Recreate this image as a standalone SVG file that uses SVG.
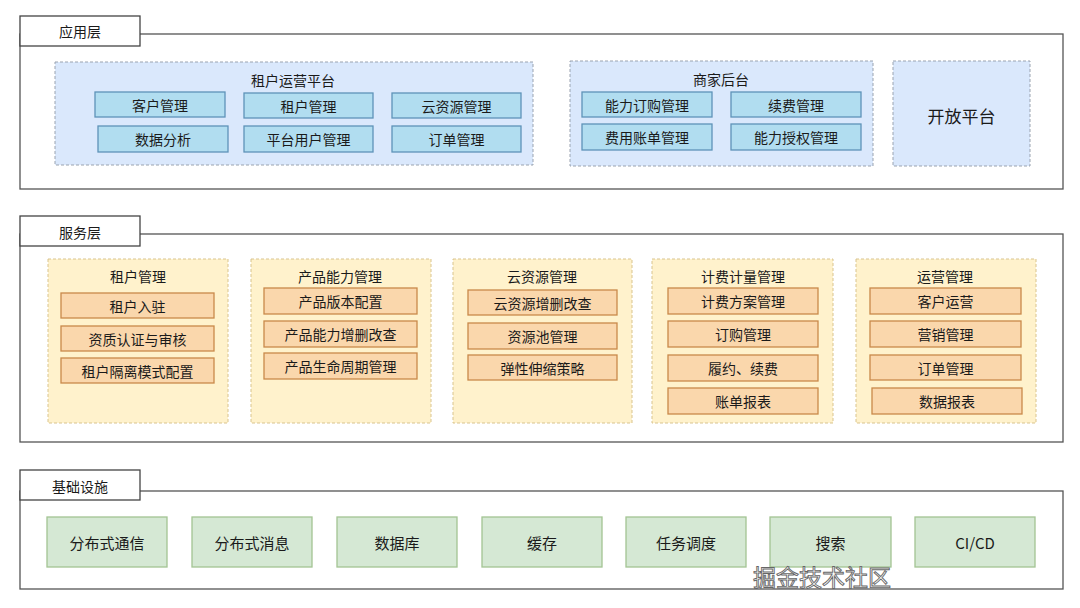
<svg xmlns="http://www.w3.org/2000/svg" width="1080" height="608" viewBox="0 0 1080 608">
<style>
text{font-family:"Noto Sans CJK SC","Liberation Sans",sans-serif;font-size:14px;fill:#1a1a1a;text-anchor:middle;dominant-baseline:central}
.layer{fill:#ffffff;stroke:#555;stroke-width:1.3}
.tab{fill:#ffffff;stroke:#444;stroke-width:1.3}
.bg{fill:#dae8fc;stroke:#9aa3b0;stroke-width:1;stroke-dasharray:3 2}
.bi{fill:#b1ddf0;stroke:#5e93b8;stroke-width:1.3}
.yg{fill:#fff2cc;stroke:#d9c48e;stroke-width:1;stroke-dasharray:3 2}
.oi{fill:#fad7ac;stroke:#c9894a;stroke-width:1.3}
.gi{fill:#d5e8d4;stroke:#a3c493;stroke-width:1.3}
.big{font-size:17px}
.inf{font-size:15px}
.wm{font-size:23px;fill:#ffffff;stroke:#666;stroke-width:0.9;text-anchor:start}
</style>
<rect width="1080" height="608" fill="#ffffff"/>

<!-- Application layer -->
<g id="app-layer">
<rect class="layer" x="20" y="34" width="1043" height="155"/>
<rect class="tab" x="20" y="16" width="120" height="30"/>
<text x="80" y="31">应用层</text>
</g>
<g id="tenant-ops-platform">
<rect class="bg" x="55" y="62" width="478" height="103"/>
<text x="293" y="80">租户运营平台</text>
</g>
<g id="app-customer"><rect class="bi" x="95" y="92" width="130" height="25"/><text x="160" y="104.5">客户管理</text></g>
<g id="app-tenant"><rect class="bi" x="244" y="93" width="129" height="25"/><text x="308.5" y="105.5">租户管理</text></g>
<g id="app-cloud"><rect class="bi" x="392" y="93" width="129" height="25"/><text x="456.5" y="105.5">云资源管理</text></g>
<g id="app-data"><rect class="bi" x="98" y="126" width="130" height="26"/><text x="163" y="139">数据分析</text></g>
<g id="app-platuser"><rect class="bi" x="244" y="126" width="129" height="26"/><text x="308.5" y="139">平台用户管理</text></g>
<g id="app-order"><rect class="bi" x="392" y="126" width="129" height="26"/><text x="456.5" y="139">订单管理</text></g>

<g id="merchant-backend">
<rect class="bg" x="570" y="61" width="303" height="105"/>
<text x="721" y="79">商家后台</text>
</g>
<g id="m-subscribe"><rect class="bi" x="582" y="92" width="130" height="25"/><text x="647" y="104.5">能力订购管理</text></g>
<g id="m-renew"><rect class="bi" x="731" y="92" width="130" height="25"/><text x="796" y="104.5">续费管理</text></g>
<g id="m-bill"><rect class="bi" x="582" y="124" width="130" height="26"/><text x="647" y="137">费用账单管理</text></g>
<g id="m-auth"><rect class="bi" x="731" y="124" width="130" height="26"/><text x="796" y="137">能力授权管理</text></g>

<g id="open-platform">
<rect class="bg" x="893" y="61" width="137" height="105"/>
<text class="big" x="961.5" y="115">开放平台</text>
</g>

<!-- Service layer -->
<g id="service-layer">
<rect class="layer" x="20" y="234" width="1043" height="208"/>
<rect class="tab" x="20" y="216" width="120" height="30"/>
<text x="80" y="232">服务层</text>
</g>
<g id="svc-tenant">
<rect class="yg" x="48" y="259" width="180" height="164"/>
<text x="138" y="276">租户管理</text>
<rect class="oi" x="61" y="293" width="153" height="25"/><text x="137.5" y="305.5">租户入驻</text>
<rect class="oi" x="61" y="326" width="153" height="25"/><text x="137.5" y="338.5">资质认证与审核</text>
<rect class="oi" x="61" y="358" width="153" height="25"/><text x="137.5" y="370.5">租户隔离模式配置</text>
</g>
<g id="svc-product">
<rect class="yg" x="251" y="259" width="180" height="164"/>
<text x="340" y="276">产品能力管理</text>
<rect class="oi" x="264" y="288" width="153" height="26"/><text x="340.5" y="301">产品版本配置</text>
<rect class="oi" x="264" y="321" width="153" height="26"/><text x="340.5" y="334">产品能力增删改查</text>
<rect class="oi" x="264" y="353" width="153" height="26"/><text x="340.5" y="366">产品生命周期管理</text>
</g>
<g id="svc-cloud">
<rect class="yg" x="453" y="259" width="179" height="164"/>
<text x="542" y="276">云资源管理</text>
<rect class="oi" x="468" y="290" width="149" height="25"/><text x="542.5" y="302.5">云资源增删改查</text>
<rect class="oi" x="468" y="323" width="149" height="26"/><text x="542.5" y="336">资源池管理</text>
<rect class="oi" x="468" y="355" width="149" height="25"/><text x="542.5" y="367.5">弹性伸缩策略</text>
</g>
<g id="svc-billing">
<rect class="yg" x="652" y="259" width="181" height="164"/>
<text x="743" y="276">计费计量管理</text>
<rect class="oi" x="668" y="288" width="150" height="26"/><text x="743" y="301">计费方案管理</text>
<rect class="oi" x="668" y="321" width="150" height="26"/><text x="743" y="334">订购管理</text>
<rect class="oi" x="668" y="355" width="150" height="26"/><text x="743" y="368">履约、续费</text>
<rect class="oi" x="668" y="388" width="150" height="26"/><text x="743" y="401">账单报表</text>
</g>
<g id="svc-ops">
<rect class="yg" x="856" y="259" width="180" height="164"/>
<text x="945" y="276">运营管理</text>
<rect class="oi" x="870" y="288" width="151" height="26"/><text x="945.5" y="301">客户运营</text>
<rect class="oi" x="870" y="321" width="151" height="26"/><text x="945.5" y="334">营销管理</text>
<rect class="oi" x="870" y="355" width="151" height="25"/><text x="945.5" y="367.5">订单管理</text>
<rect class="oi" x="872" y="388" width="150" height="26"/><text x="947" y="401">数据报表</text>
</g>

<!-- Infrastructure -->
<g id="infra-layer">
<rect class="layer" x="20" y="491" width="1043" height="98"/>
<rect class="tab" x="20" y="470" width="120" height="30"/>
<text x="80" y="486">基础设施</text>
</g>
<g id="infra-rpc"><rect class="gi" x="47" y="517" width="120" height="50"/><text class="inf" x="107" y="542">分布式通信</text></g>
<g id="infra-mq"><rect class="gi" x="192" y="517" width="120" height="50"/><text class="inf" x="252" y="542">分布式消息</text></g>
<g id="infra-db"><rect class="gi" x="337" y="517" width="120" height="50"/><text class="inf" x="397" y="542">数据库</text></g>
<g id="infra-cache"><rect class="gi" x="482" y="517" width="120" height="50"/><text class="inf" x="542" y="542">缓存</text></g>
<g id="infra-job"><rect class="gi" x="626" y="517" width="120" height="50"/><text class="inf" x="686" y="542">任务调度</text></g>
<g id="infra-search"><rect class="gi" x="770" y="517" width="121" height="50"/><text class="inf" x="830.5" y="542">搜索</text></g>
<g id="infra-cicd"><rect class="gi" x="915" y="517" width="120" height="50"/><text class="inf" x="975" y="542">CI/CD</text></g>

<g id="connectors"></g>

<text class="wm" x="753" y="576">掘金技术社区</text>
</svg>
